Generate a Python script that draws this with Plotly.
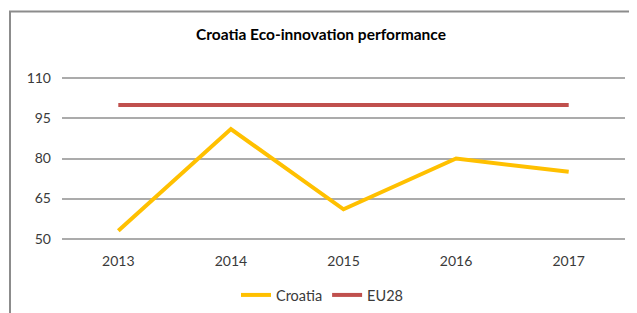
import plotly.graph_objects as go

years = ["2013", "2014", "2015", "2016", "2017"]
croatia = [53, 91, 61, 80, 75]
eu28 = [100, 100, 100, 100, 100]
y_ticks = [50, 65, 80, 95, 110]

W, H = 637, 313
D = 8  # page body margin offset
Y0, Y1 = 49.5, 110.5
G50, G110 = 239 - D, 78 - D
unit = (G50 - G110) / 60.0
top_px = G110 - (Y1 - 110) * unit
bot_px = G50 + (50 - Y0) * unit
L, R = 62 - D, W - (625 - D)
T, B = top_px, H - bot_px
pw, ph = W - L - R, H - T - B

def px_x(x):
    return (x - D - L) / pw

def px_y(y):
    return (H - B - (y - D)) / ph

fig = go.Figure()
fig.add_trace(go.Scatter(x=years, y=croatia, mode="lines", name="Croatia",
                         line=dict(color="#FFC000", width=4)))
fig.add_trace(go.Scatter(x=years, y=eu28, mode="lines", name="EU28",
                         line=dict(color="#C0504D", width=4)))

font_family = "Lato, 'Open Sans', sans-serif"

fig.update_layout(
    width=W, height=H,
    margin=dict(l=L, r=R, t=T, b=B, autoexpand=False),
    paper_bgcolor="white", plot_bgcolor="white",
    font=dict(family=font_family, size=14, color="#3A3A3A"),
    title=dict(text="<b>Croatia Eco-innovation performance</b>",
               x=(321 - D) / W, xref="container", xanchor="center",
               y=1 - (35 - D) / H, yref="container", yanchor="middle",
               font=dict(family=font_family, size=15.5, color="#000000")),
    legend=dict(orientation="h", x=(322 - D) / W, xref="container", xanchor="center",
                y=1 - (295 - D) / H, yref="container", yanchor="middle",
                font=dict(size=14.5, color="#3A3A3A"),
                traceorder="normal", bgcolor="rgba(0,0,0,0)"),
    xaxis=dict(type="category", range=[-0.5, 4.5], showgrid=False,
               showline=False, zeroline=False, ticks="",
               ticklabelstandoff=11, tickfont=dict(size=14, color="#3A3A3A"),
               fixedrange=True),
    yaxis=dict(range=[Y0, Y1], tickvals=y_ticks, showgrid=True,
               gridcolor="#ABABAB", gridwidth=2, zeroline=False, showline=False,
               ticks="", ticklabelstandoff=10,
               tickfont=dict(size=14, color="#3A3A3A"), fixedrange=True),
    shapes=[dict(type="path", xref="paper", yref="paper",
                 path=f"M {px_x(10)},{px_y(330)} L {px_x(10)},{px_y(11)} L {px_x(660)},{px_y(11)}",
                 line=dict(color="#8C8C8C", width=2))],
    showlegend=True,
)

fig.write_html("out.html")
